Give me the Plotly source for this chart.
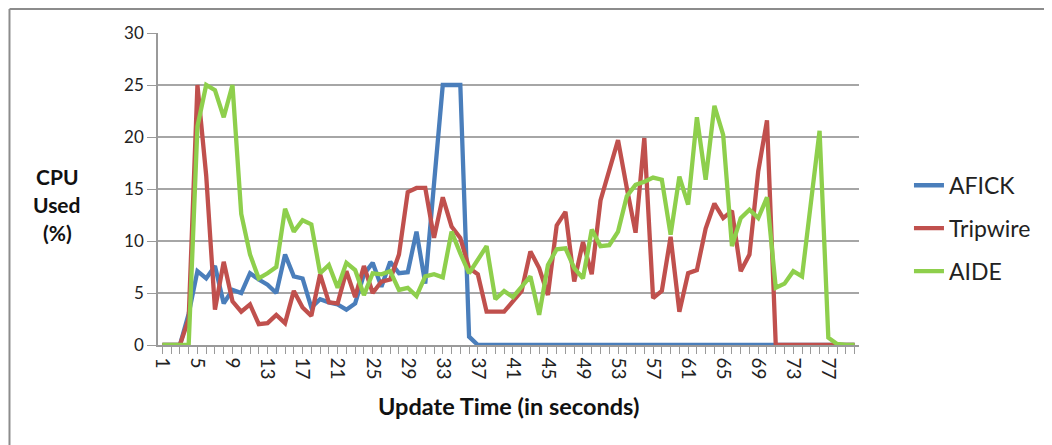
import plotly.graph_objects as go

seconds = list(range(1, 81))
tick_labels = [str(v) for v in range(1, 80, 4)]

afick = [0, 0, 0, 3.0, 7.1, 6.4, 7.6, 4.0, 5.3, 5.0,
         6.9, 6.3, 5.8, 5.0, 8.7, 6.6, 6.4, 3.6, 4.4, 4.1,
         3.9, 3.4, 4.0, 6.8, 7.9, 5.6, 8.0, 6.9, 7.0, 10.9,
         5.9, 15.5, 25, 25, 25, 0.8, 0, 0, 0, 0,
         0, 0, 0, 0, 0, 0, 0, 0, 0, 0,
         0, 0, 0, 0, 0, 0, 0, 0, 0, 0,
         0, 0, 0, 0, 0, 0, 0, 0, 0, 0,
         0, 0, 0, 0, 0, 0, 0, 0, 0, 0]

tripwire = [0, 0, 0, 2.5, 25, 16.3, 3.4, 8.0, 4.2, 3.2,
            3.9, 2.0, 2.1, 2.9, 2.1, 5.2, 3.6, 2.8, 6.8, 4.1,
            4.0, 7.1, 4.6, 7.6, 5.0, 6.1, 6.3, 8.7, 14.7, 15.1,
            15.1, 10.3, 14.2, 11.4, 10.3, 7.4, 6.8, 3.2, 3.2, 3.2,
            4.2, 5.2, 9.0, 7.4, 4.8, 11.5, 12.8, 6.1, 9.9, 6.8,
            13.9, 16.7, 19.7, 15.1, 10.8, 19.9, 4.5, 5.2, 10.4, 3.2,
            6.9, 7.2, 11.2, 13.6, 12.2, 12.9, 7.1, 8.7, 16.7, 21.6,
            0, 0, 0, 0, 0, 0, 0, 0, 0, 0]

aide = [0, 0, 0, 0, 21.0, 25, 24.5, 21.9, 25, 12.6,
        8.7, 6.4, 6.9, 7.5, 13.1, 10.9, 12.0, 11.6, 6.9, 7.7,
        5.5, 7.9, 7.2, 4.8, 6.9, 6.8, 7.1, 5.3, 5.5, 4.7,
        6.6, 6.8, 6.5, 10.9, 8.8, 6.9, 8.2, 9.5, 4.4, 5.2,
        4.6, 5.6, 6.6, 2.9, 7.7, 9.2, 9.3, 7.4, 6.4, 11.1,
        9.5, 9.6, 10.9, 14.3, 15.4, 15.7, 16.1, 15.9, 10.6, 16.2,
        13.5, 21.9, 15.9, 23.0, 20.2, 9.5, 12.2, 13.0, 12.2, 14.2,
        5.5, 5.9, 7.1, 6.6, 13.6, 20.6, 0.7, 0.1, 0, 0]

series = [("AFICK", afick, "#4A7EBB"),
          ("Tripwire", tripwire, "#C0504D"),
          ("AIDE", aide, "#8ECF4C")]

FONT = "Lato, 'Open Sans', sans-serif"

# page body has an 8px margin, so the figure is 8px smaller and shifted
OFF = 8
W, H = 1052 - OFF, 445 - OFF
PL, PR, PT, PB = 157.6, 859.0, 33.0, 345.5   # plot area in page pixels
PW, PH = PR - PL, PB - PT

def px(xp):
    return (xp - PL) / PW

def py(yp):
    return (PB - yp) / PH

fig = go.Figure()
for name, vals, col in series:
    fig.add_trace(go.Scatter(x=seconds, y=vals, name=name, mode="lines",
                             legendgroup=name,
                             line=dict(color=col, width=4.3)))

fig.update_layout(
    width=W, height=H,
    margin=dict(l=PL - OFF, r=W - (PR - OFF), t=PT - OFF, b=H - (PB - OFF)),
    paper_bgcolor="white", plot_bgcolor="white",
    font=dict(family=FONT, size=17, color="#222222"),
    showlegend=True,
    legend=dict(x=px(949) - 40 / PW, xanchor="left", y=py(164), yanchor="top",
                tracegroupgap=10, font=dict(size=23, color="#222222"),
                bgcolor="rgba(0,0,0,0)"),
    xaxis=dict(range=[0.5, 80.5], tickmode="array",
               tickvals=list(range(1, 80, 4)), ticktext=tick_labels,
               tickangle=90, ticks="outside", ticklen=7, tickcolor="#9a9a9a",
               showgrid=False, zeroline=False, showline=True,
               linecolor="#9a9a9a", linewidth=1.5,
               tickfont=dict(size=19, color="#222222"),
               minor=dict(tickmode="linear", tick0=1, dtick=1, ticks="outside",
                          ticklen=7, tickcolor="#9a9a9a", showgrid=False)),
    yaxis=dict(range=[0, 30], dtick=5, ticks="outside", ticklen=9,
               tickcolor="#9a9a9a", showgrid=True, gridcolor="#a6a6a6",
               gridwidth=1.5, zeroline=False, showline=True,
               linecolor="#9a9a9a", linewidth=1.5,
               tickfont=dict(size=17, color="#222222")),
)

# x-axis title
fig.add_annotation(text="<b>Update Time (in seconds)</b>", xref="paper", yref="paper",
                   x=0.5, y=py(407), showarrow=False, xanchor="center", yanchor="middle",
                   font=dict(size=23.5, color="#111111"))
# y-axis title (three stacked lines)
for txt, yy in [("CPU", 177), ("Used", 205), ("(%)", 233)]:
    fig.add_annotation(text="<b>%s</b>" % txt, xref="paper", yref="paper",
                       x=px(57), y=py(yy),
                       showarrow=False, xanchor="center", yanchor="middle",
                       font=dict(size=21, color="#111111"))

# chart area border (top and left edges visible)
fig.add_shape(type="line", xref="paper", yref="paper",
              x0=px(9), x1=px(1070), y0=py(9), y1=py(9),
              line=dict(color="#8c8c8c", width=2))
fig.add_shape(type="line", xref="paper", yref="paper",
              x0=px(9), x1=px(9), y0=py(9), y1=py(470),
              line=dict(color="#8c8c8c", width=2))

fig.write_html("out.html")
